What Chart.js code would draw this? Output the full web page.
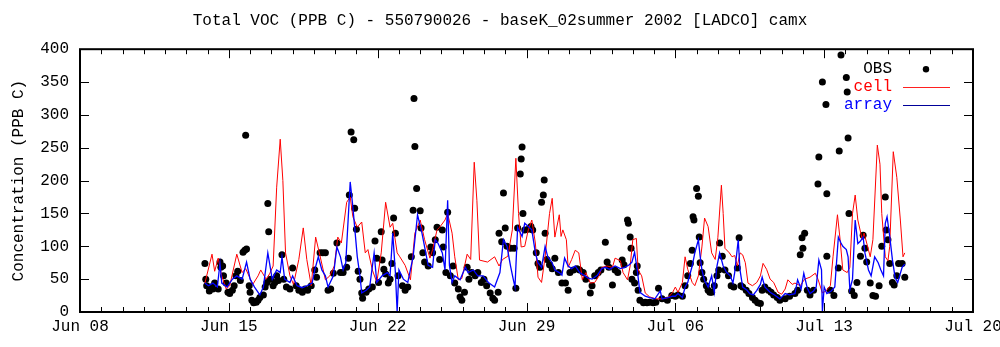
<!DOCTYPE html>
<html>
<head>
<meta charset="utf-8">
<script src="https://cdn.jsdelivr.net/npm/chart.js@4.4.1/dist/chart.umd.min.js"></script>
<style>
html,body{margin:0;padding:0;background:#fff;}
canvas{display:block;}
</style>
</head>
<body>
<canvas id="c" width="1000" height="347"></canvas>
<script>
// Time axis: hours since Jun 08 2002 00:00
const tickHours = [0, 168, 336, 504, 672, 840, 1008];
const tickLabels = ["Jun 08", "Jun 15", "Jun 22", "Jun 29", "Jul 06", "Jul 13", "Jul 20"];
const yTicks = [0, 50, 100, 150, 200, 250, 300, 350, 400];

// cell model series [hour, ppbC]
const cellPoints = [[141,44],[149,88],[152,62],[156,82],[160,55],[165,35],[169,40],[177,88],[183,60],[187,66],
[195,42],[201,55],[204,64],[210,50],[214,58],[218,70],[222,190],[226,263],[229,200],[232,90],
[237,55],[241,42],[247,80],[252,128],[256,80],[261,40],[266,114],[271,85],[277,49],[282,55],
[287,70],[291,114],[295,105],[301,167],[305,175],[308,145],[313,129],[318,137],[322,90],[325,95],
[330,64],[335,45],[340,90],[345,167],[350,129],[353,135],[358,90],[361,84],[367,71],[373,49],
[378,120],[384,140],[389,110],[395,82],[398,95],[403,125],[406,129],[412,140],[415,150],[420,120],
[423,84],[427,49],[431,51],[437,88],[441,80],[445,228],[448,170],[451,79],[460,76],[468,84],
[473,70],[477,80],[483,85],[488,125],[492,234],[495,150],[498,99],[502,100],[506,125],[510,140],
[514,105],[517,53],[521,45],[525,84],[530,150],[533,173],[536,114],[541,148],[543,115],[545,125],
[549,110],[551,68],[555,80],[559,94],[563,90],[567,49],[571,60],[576,44],[581,45],[586,55],
[589,68],[595,70],[601,68],[604,82],[610,78],[613,60],[618,49],[621,70],[624,110],[628,112],
[630,64],[634,55],[638,29],[643,23],[650,20],[657,20],[664,22],[669,30],[672,38],[675,30],
[680,45],[683,84],[686,65],[691,45],[694,40],[698,55],[702,99],[705,143],[709,130],[713,90],
[717,80],[720,113],[724,193],[726,150],[728,97],[733,90],[736,84],[739,86],[742,70],[745,90],
[748,87],[751,75],[754,44],[759,40],[764,45],[768,55],[771,74],[775,65],[779,50],[783,45],
[788,30],[792,27],[796,35],[799,49],[804,42],[807,44],[813,40],[818,50],[824,53],[830,59],
[833,50],[838,29],[842,32],[847,40],[850,84],[855,148],[858,110],[861,64],[866,60],[869,68],
[872,150],[875,178],[878,140],[883,110],[885,120],[888,105],[892,84],[895,110],[900,254],[903,225],
[905,150],[909,84],[912,78],[914,100],[918,244],[922,205],[926,140],[929,84],[931,90]];

// array model series [hour, ppbC]
const arrayPoints = [[141,44],[145,40],[150,44],[155,38],[158,74],[160,44],[166,38],[172,50],[177,55],[183,50],
[188,76],[192,50],[197,38],[203,26],[207,38],[212,90],[217,50],[222,64],[226,60],[228,84],
[231,50],[237,45],[240,55],[245,40],[251,37],[256,40],[262,44],[265,64],[269,84],[273,64],
[277,55],[280,38],[286,55],[290,99],[294,84],[297,64],[300,75],[305,198],[308,160],[313,84],
[316,55],[318,29],[323,33],[327,38],[332,90],[335,45],[341,55],[347,60],[350,55],[353,120],
[356,60],[358,0],[360,64],[365,50],[370,45],[376,84],[381,148],[386,120],[389,99],[393,71],
[398,68],[401,110],[404,105],[409,90],[412,64],[415,170],[417,71],[420,45],[423,55],[429,49],
[435,68],[438,60],[444,64],[449,55],[455,55],[461,45],[468,38],[474,60],[478,110],[482,100],
[486,70],[489,50],[491,38],[494,129],[499,115],[502,135],[506,130],[510,125],[514,90],[517,75],
[521,68],[525,100],[528,84],[533,75],[536,64],[541,60],[544,56],[547,82],[551,70],[555,66],
[559,70],[564,60],[570,55],[573,52],[578,50],[584,56],[589,66],[593,68],[598,65],[604,70],
[610,66],[615,68],[620,72],[623,76],[626,91],[629,64],[632,30],[638,24],[643,22],[649,20],
[655,32],[657,20],[664,22],[669,24],[672,24],[675,28],[680,22],[683,38],[686,45],[691,70],
[694,90],[698,110],[700,85],[702,64],[705,48],[709,38],[713,55],[716,30],[719,70],[722,90],
[726,70],[730,60],[734,55],[737,44],[739,60],[743,110],[745,64],[748,38],[753,33],[756,28],
[760,26],[764,33],[768,42],[770,53],[773,38],[779,30],[784,26],[790,20],[796,28],[801,26],
[807,28],[810,49],[814,35],[817,59],[821,36],[824,28],[828,32],[831,38],[834,79],[837,64],
[838,0],[840,38],[843,28],[848,32],[852,38],[856,114],[859,105],[861,100],[865,95],[867,84],
[869,34],[872,50],[875,140],[878,104],[881,108],[884,114],[886,90],[890,64],[893,55],[897,84],
[901,75],[904,64],[907,55],[909,135],[911,145],[914,115],[917,80],[920,53],[923,45],[928,68],[931,73]];

// observations [hour, ppbC]
const obsPoints = [[141,74],[142,50],[143,40],[146,32],[148,38],[150,35],[152,44],[156,35],[158,76],[159,68],
[161,70],[162,55],[165,44],[167,30],[169,28],[172,33],[174,40],[176,55],[178,62],[181,48],
[184,91],[186,94],[187,269],[188,96],[191,40],[192,30],[194,18],[196,14],[199,15],[201,18],
[203,22],[207,26],[209,38],[211,45],[212,165],[213,122],[215,50],[218,40],[220,45],[222,55],
[224,48],[228,87],[230,50],[233,38],[237,35],[240,67],[244,40],[247,33],[251,30],[254,35],
[257,33],[261,40],[265,64],[267,53],[271,90],[274,90],[277,90],[280,33],[283,35],[286,59],
[290,105],[294,60],[297,60],[301,68],[303,82],[304,178],[306,274],[309,262],[310,158],[312,126],
[314,62],[316,50],[318,29],[319,21],[323,30],[326,35],[330,38],[333,108],[335,82],[337,45],
[340,122],[341,79],[343,65],[345,58],[348,44],[350,50],[352,74],[354,143],[356,120],[359,55],
[364,40],[367,33],[370,38],[374,84],[376,155],[377,325],[378,252],[380,188],[384,154],[385,128],
[387,90],[389,76],[393,70],[396,99],[398,90],[401,110],[403,129],[406,80],[409,125],[410,99],
[413,60],[415,152],[418,55],[421,70],[423,44],[427,35],[429,23],[431,18],[434,30],[437,68],
[439,50],[442,60],[446,55],[449,60],[453,45],[456,50],[459,40],[463,29],[466,21],[468,18],
[472,30],[473,120],[476,107],[478,181],[480,128],[482,100],[486,97],[490,97],[492,36],[494,128],
[497,210],[498,233],[499,251],[500,150],[502,125],[506,126],[509,130],[511,125],[515,90],[517,74],
[519,68],[521,167],[523,178],[524,201],[525,120],[527,80],[530,72],[533,66],[536,82],[540,60],
[544,44],[548,44],[551,33],[553,60],[557,64],[561,66],[564,64],[568,60],[571,50],[576,29],
[578,40],[581,55],[585,60],[588,64],[593,106],[595,76],[597,68],[601,41],[604,64],[607,60],
[612,79],[614,72],[618,140],[619,135],[621,114],[622,97],[623,50],[626,44],[628,60],[629,70],
[630,33],[632,18],[636,14],[638,15],[640,14],[643,15],[647,14],[650,15],[653,36],[657,20],
[663,18],[668,25],[672,24],[675,26],[680,24],[683,40],[686,55],[689,74],[691,94],[692,145],
[693,140],[696,188],[698,176],[699,114],[700,75],[702,60],[704,50],[707,40],[709,33],[711,30],
[713,30],[716,40],[719,55],[721,64],[722,105],[725,85],[728,64],[732,55],[735,40],[738,38],
[742,67],[744,113],[746,40],[748,38],[752,33],[755,28],[759,22],[762,18],[765,14],[768,13],
[770,33],[773,38],[777,33],[780,30],[783,26],[787,22],[790,18],[796,20],[801,24],[807,28],
[810,33],[813,87],[815,113],[816,97],[818,120],[821,33],[824,26],[828,33],[833,195],[834,236],
[838,350],[842,316],[843,180],[843,85],[847,33],[851,25],[856,67],[857,245],[859,391],[865,357],
[866,335],[867,265],[868,150],[871,32],[874,25],[877,45],[881,85],[884,117],[886,97],[888,76],
[892,44],[895,25],[898,24],[902,40],[905,100],[909,175],[910,125],[912,110],[914,74],[917,45],
[919,41],[922,55],[924,74],[928,74],[931,53]];

const FONT = {family: "'Liberation Mono', 'DejaVu Sans Mono', monospace", size: 16, weight: 'normal'};
const toXY = arr => arr.map(p => ({x: p[0], y: p[1]}));

const framePlugin = {
  id: 'frame',
  afterDatasetsDraw(chart) {
    const {ctx, chartArea: a, scales: {x, y}} = chart;
    ctx.save();
    ctx.strokeStyle = '#000';
    ctx.lineWidth = 1;
    ctx.beginPath();
    for (let h = x.min; h <= x.max; h += 24) {
      const px = Math.round(x.getPixelForValue(h)) + 0.5;
      const len = tickHours.includes(h) ? 9 : 5;
      ctx.moveTo(px, a.bottom); ctx.lineTo(px, a.bottom - len);
      ctx.moveTo(px, a.top); ctx.lineTo(px, a.top + len);
    }
    yTicks.forEach(v => {
      const py = Math.round(y.getPixelForValue(v)) + 0.5;
      ctx.moveTo(a.left, py); ctx.lineTo(a.left + 9, py);
      ctx.moveTo(a.right, py); ctx.lineTo(a.right - 9, py);
    });
    ctx.stroke();
    ctx.lineWidth = 2;
    ctx.strokeRect(a.left, a.top, a.right - a.left, a.bottom - a.top);

    // legend (text then sample, right-top inside the plot)
    const ds = chart.data.datasets;
    ctx.font = `${FONT.size}px ${FONT.family}`;
    ctx.textAlign = 'right';
    ctx.textBaseline = 'middle';
    const tx = a.right - 81, sx0 = a.right - 70, sx1 = a.right - 23;
    const rows = [
      {d: ds[2], y: a.top + 20, color: '#000000', line: null},
      {d: ds[1], y: a.top + 38, color: '#ff0000', line: '#ff2020'},
      {d: ds[0], y: a.top + 56, color: '#0000ff', line: '#000099'}
    ];
    rows.forEach(r => {
      ctx.fillStyle = r.color;
      ctx.fillText(r.d.label, tx, r.y);
      if (r.line) {
        ctx.strokeStyle = r.line;
        ctx.lineWidth = 1.2;
        ctx.beginPath();
        ctx.moveTo(sx0, Math.round(r.y) + 0.5);
        ctx.lineTo(sx1, Math.round(r.y) + 0.5);
        ctx.stroke();
      } else {
        ctx.fillStyle = '#000';
        ctx.beginPath();
        ctx.arc(a.right - 47, r.y, 3.2, 0, Math.PI * 2);
        ctx.fill();
      }
    });
    ctx.restore();
  }
};

new Chart(document.getElementById('c'), {
  type: 'scatter',
  data: {
    datasets: [
      {label: 'array', data: toXY(arrayPoints), showLine: true, borderColor: '#0000ff', borderWidth: 1.3,
       pointRadius: 0, order: 0, tension: 0},
      {label: 'cell', data: toXY(cellPoints), showLine: true, borderColor: '#ff0000', borderWidth: 1,
       pointRadius: 0, order: 1, tension: 0},
      {label: 'OBS', data: toXY(obsPoints), showLine: false, pointRadius: 3.5, pointBackgroundColor: '#000',
       pointBorderWidth: 0, borderColor: '#000', order: 2}
    ]
  },
  options: {
    responsive: false,
    animation: false,
    layout: {padding: {left: 0, right: 0, top: 0, bottom: 0}},
    plugins: {
      legend: {display: false},
      tooltip: {enabled: false},
      title: {
        display: true,
        text: 'Total VOC (PPB C) - 550790026 - baseK_02summer 2002 [LADCO] camx',
        color: '#000',
        font: FONT,
        padding: {top: 11, bottom: 19}
      }
    },
    scales: {
      x: {
        type: 'linear', min: 0, max: 1008,
        grid: {display: false, drawTicks: false},
        border: {display: false},
        afterBuildTicks: s => { s.ticks = tickHours.map(v => ({value: v})); },
        ticks: {
          color: '#000', font: FONT, padding: 5, maxRotation: 0, autoSkip: false,
          callback: v => tickLabels[tickHours.indexOf(v)]
        },
        afterFit: s => { s.height = 35; s.paddingRight = 27; s.paddingLeft = 0; }
      },
      y: {
        min: 0, max: 400,
        grid: {display: false, drawTicks: false},
        border: {display: false},
        afterBuildTicks: s => { s.ticks = yTicks.map(v => ({value: v})); },
        ticks: {color: '#000', font: FONT, padding: 11},
        title: {display: true, text: 'Concentration (PPB C)', color: '#000', font: FONT, padding: {top: 9, bottom: 0}},
        afterFit: s => { s.width = 80; }
      }
    }
  },
  plugins: [framePlugin]
});
</script>
</body>
</html>
